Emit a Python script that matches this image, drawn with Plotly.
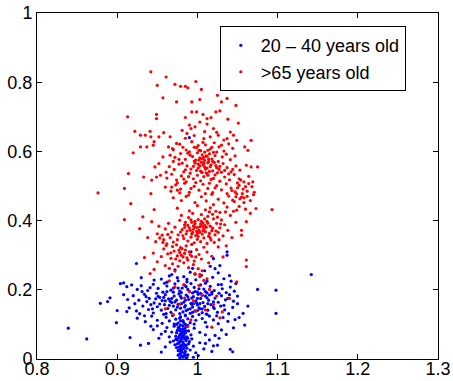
import plotly.graph_objects as go

# ---- data ----
young_points = [
    # outliers / sparse
    (0.839,0.089),(0.862,0.058),(0.879,0.161),(0.888,0.166),(0.891,0.177),(0.900,0.140),
    (0.899,0.105),(0.904,0.218),(0.908,0.220),(0.912,0.209),(0.924,0.276),(0.930,0.235),
    (0.912,0.137),(0.916,0.062),(0.929,0.040),(0.939,0.045),(1.142,0.244),(1.098,0.199),
    (1.098,0.132),(1.075,0.201),(1.063,0.153),(1.059,0.098),(1.041,0.028),(1.044,0.021),
    (1.037,0.300),(1.037,0.310),(1.050,0.182),(1.048,0.218),(1.057,0.132),(0.990,0.640),
    (0.992,0.310),(1.020,0.290),
    # 0.22 - 0.27
    (0.955,0.231),(0.968,0.244),(0.976,0.226),(0.983,0.238),(0.991,0.251),(0.998,0.229),
    (1.005,0.242),(1.012,0.225),(1.019,0.236),(1.026,0.249),(1.033,0.232),(0.962,0.222),
    (0.987,0.223),(1.009,0.255),(1.022,0.261),(0.946,0.228),(1.040,0.241),(0.972,0.258),
    (1.016,0.268),(1.028,0.270),(0.994,0.262),
    # 0.19 - 0.22
    (0.930,0.212),(0.938,0.198),(0.945,0.216),(0.951,0.204),(0.957,0.193),(0.962,0.211),
    (0.967,0.199),(0.972,0.217),(0.976,0.205),(0.980,0.192),(0.984,0.213),(0.988,0.201),
    (0.992,0.218),(0.996,0.207),(1.000,0.194),(1.004,0.214),(1.008,0.202),(1.012,0.191),
    (1.016,0.210),(1.021,0.198),(1.026,0.215),(1.031,0.203),(1.036,0.192),(1.041,0.208),
    (1.046,0.196),(0.959,0.219),(0.978,0.196),(0.994,0.191),(1.010,0.219),(0.941,0.206),
    (0.925,0.201),(0.918,0.214),(0.970,0.193),(0.986,0.209),(1.002,0.203),(1.018,0.193),
    # 0.16 - 0.19
    (0.920,0.183),(0.927,0.170),(0.934,0.187),(0.940,0.175),(0.946,0.162),(0.951,0.181),
    (0.956,0.169),(0.960,0.186),(0.964,0.174),(0.968,0.163),(0.971,0.182),(0.974,0.170),
    (0.977,0.188),(0.980,0.176),(0.983,0.164),(0.986,0.185),(0.989,0.172),(0.992,0.161),
    (0.995,0.180),(0.998,0.168),(1.001,0.187),(1.004,0.175),(1.007,0.163),(1.010,0.182),
    (1.014,0.170),(1.018,0.188),(1.022,0.176),(1.026,0.164),(1.030,0.183),(1.035,0.171),
    (1.040,0.186),(1.045,0.167),(0.958,0.178),(0.966,0.167),(0.979,0.181),(0.993,0.176),
    (1.006,0.184),(1.020,0.165),(0.948,0.174),(0.937,0.166),(0.913,0.172),(0.908,0.186),
    (0.985,0.170),(0.999,0.162),(1.012,0.177),
    # 0.13 - 0.16
    (0.915,0.148),(0.924,0.139),(0.932,0.153),(0.939,0.143),(0.945,0.133),(0.950,0.151),
    (0.955,0.141),(0.959,0.157),(0.963,0.146),(0.967,0.135),(0.970,0.153),(0.973,0.142),
    (0.976,0.158),(0.979,0.147),(0.982,0.136),(0.985,0.154),(0.988,0.143),(0.991,0.132),
    (0.994,0.150),(0.997,0.139),(1.000,0.156),(1.003,0.145),(1.006,0.134),(1.009,0.152),
    (1.013,0.141),(1.017,0.157),(1.021,0.146),(1.025,0.135),(1.029,0.153),(1.034,0.142),
    (1.039,0.131),(1.044,0.149),(0.961,0.131),(0.978,0.131),(0.993,0.158),(1.011,0.130),
    (0.953,0.159),(0.942,0.157),(0.928,0.131),(0.986,0.140),(1.002,0.148),
    # 0.10 - 0.13
    (0.925,0.118),(0.935,0.108),(0.943,0.124),(0.950,0.112),(0.956,0.103),(0.961,0.121),
    (0.965,0.110),(0.969,0.126),(0.973,0.115),(0.976,0.104),(0.979,0.122),(0.982,0.111),
    (0.985,0.127),(0.988,0.116),(0.991,0.105),(0.994,0.123),(0.998,0.112),(1.002,0.128),
    (1.006,0.117),(1.010,0.106),(1.015,0.124),(1.020,0.113),(1.026,0.102),(1.032,0.120),
    (1.038,0.109),(1.047,0.114),(0.958,0.129),(0.971,0.101),(0.996,0.101),(1.012,0.129),
    # 0.06 - 0.10
    (0.945,0.085),(0.955,0.072),(0.962,0.091),(0.968,0.078),(0.971,0.095),(0.973,0.066),
    (0.975,0.083),(0.977,0.092),(0.978,0.071),(0.979,0.086),(0.980,0.062),(0.981,0.079),
    (0.982,0.096),(0.983,0.068),(0.984,0.088),(0.985,0.075),(0.986,0.093),(0.987,0.064),
    (0.989,0.081),(0.992,0.070),(0.996,0.089),(1.003,0.077),(1.012,0.093),(1.022,0.068),
    (1.030,0.084),(1.036,0.071),(0.974,0.076),(0.976,0.060),(0.979,0.098),(0.981,0.069),
    (0.983,0.082),(0.985,0.061),(0.988,0.097),(0.965,0.064),(0.950,0.096),
    # 0.00 - 0.06
    (0.970,0.052),(0.972,0.041),(0.974,0.033),(0.975,0.055),(0.976,0.024),(0.977,0.046),
    (0.978,0.015),(0.979,0.038),(0.980,0.057),(0.981,0.028),(0.982,0.049),(0.983,0.009),
    (0.984,0.036),(0.985,0.022),(0.986,0.053),(0.987,0.031),(0.988,0.012),(0.989,0.044),
    (0.991,0.026),(0.993,0.058),(0.995,0.037),(0.998,0.018),(1.003,0.047),(1.008,0.029),
    (1.015,0.055),(1.018,0.022),(1.025,0.040),(0.978,0.003),(0.980,0.020),(0.982,0.005),
    (0.976,0.011),(0.984,0.017),(0.986,0.002),(0.979,0.027),(0.977,0.034),(0.983,0.043),
    (0.960,0.035),(0.966,0.049),(0.955,0.020),(0.995,0.005),(1.001,0.010),(1.010,0.045),
    (1.020,0.038),
    # extra column points
    (0.977,0.065),(0.979,0.052),(0.981,0.041),(0.983,0.030),(0.980,0.075),(0.982,0.087),
    (0.978,0.082),(0.984,0.058),(0.975,0.044),(0.986,0.040),(0.976,0.090),(0.985,0.100),
    (0.980,0.010),(0.982,0.064),(0.978,0.050),(0.984,0.075),(0.986,0.081),(0.974,0.100),
    (0.979,0.110),(0.983,0.105),(0.981,0.020),(0.977,0.025),(0.988,0.060),(0.973,0.057),
    (0.985,0.012),(0.990,0.050),(0.987,0.005),(0.980,0.035),
    # extra core points
    (0.980,0.160),(0.984,0.150),(0.988,0.180),(0.991,0.145),(0.995,0.160),(0.972,0.165),
    (0.975,0.150),(0.968,0.175),(0.990,0.195),(1.000,0.175),(1.003,0.160),(1.006,0.145),
    (0.965,0.155),(0.962,0.195),(0.970,0.205),(0.981,0.205),(0.997,0.195),(1.010,0.195),
    (1.015,0.185),(1.013,0.160),(1.020,0.150),(0.985,0.125),(0.978,0.118),(0.960,0.168),
    (0.953,0.178),(0.949,0.190),(0.944,0.145),(0.936,0.180),(0.931,0.195),(0.922,0.160),
    (0.934,0.125),(1.024,0.125),(1.027,0.190),(1.033,0.155),(1.038,0.175),(0.994,0.135),
    (1.000,0.140),(1.004,0.190),(0.987,0.230),(0.997,0.245),(0.975,0.235),(0.965,0.240),
    (1.030,0.215),(1.042,0.225),(1.050,0.160),(1.052,0.120),(0.942,0.095),(0.952,0.060),
    (0.960,0.080),(1.010,0.070),(1.027,0.060),(1.045,0.090),
]

old_points = [
    # sparse top
    (0.942,0.830),(0.961,0.815),(0.972,0.794),(0.979,0.788),(0.985,0.788),(0.998,0.802),
    (0.988,0.784),(0.950,0.791),(0.957,0.755),(0.974,0.743),(0.993,0.743),(1.005,0.779),
    (1.003,0.750),(1.025,0.762),(1.037,0.753),(1.030,0.743),(1.048,0.733),(0.993,0.714),
    (0.999,0.714),(1.007,0.707),(0.913,0.700),(0.949,0.707),(0.949,0.695),(0.985,0.698),
    (1.012,0.695),(1.023,0.714),(1.028,0.717),(1.038,0.693),(1.051,0.682),(1.017,0.698),
    # sparse sides
    (0.922,0.658),(0.929,0.647),(0.935,0.647),(0.941,0.658),(0.942,0.642),(0.946,0.628),
    (0.945,0.618),(0.937,0.613),(0.929,0.613),(0.920,0.596),(0.914,0.536),(0.933,0.526),
    (0.943,0.517),(0.949,0.526),(0.954,0.531),(0.947,0.555),(0.952,0.565),(0.957,0.584),
    (0.958,0.654),(0.966,0.642),(0.952,0.642),(0.964,0.613),(0.970,0.605),(0.974,0.623),
    (0.981,0.661),(0.987,0.652),(0.990,0.676),(0.992,0.666),(0.997,0.671),(1.003,0.685),
    (1.012,0.679),(1.020,0.666),(1.009,0.657),(1.016,0.642),(1.026,0.647),(1.037,0.637),
    (1.045,0.647),(1.049,0.632),(1.059,0.613),(1.067,0.632),(1.063,0.603),(1.061,0.560),
    (1.075,0.555),(1.067,0.555),(1.069,0.512),(1.073,0.435),(1.061,0.397),(1.055,0.372),
    (1.055,0.358),(1.061,0.286),(1.061,0.267),(1.049,0.223),(1.048,0.395),(1.093,0.432),
    (1.049,0.430),(0.932,0.411),(0.946,0.432),(0.943,0.397),(0.928,0.377),(0.938,0.351),
    (0.909,0.403),(0.909,0.493),(0.917,0.449),(0.942,0.478),(0.876,0.480),(0.934,0.293),
    (0.941,0.247),(0.946,0.259),(1.003,0.238),(1.026,0.324),(1.032,0.295),
    # upper dense cluster
    (0.978,0.621),(0.986,0.604),(0.993,0.628),(0.999,0.611),(1.004,0.602),(1.010,0.619),
    (1.016,0.607),(1.021,0.625),(1.027,0.613),(1.033,0.601),(1.039,0.622),(1.044,0.609),
    (0.982,0.612),(1.007,0.626),(1.013,0.603),(1.030,0.618),(0.990,0.599),(1.001,0.617),
    (1.024,0.598),(0.969,0.608),
    (0.972,0.583),(0.979,0.594),(0.985,0.577),(0.991,0.589),(0.996,0.572),(1.000,0.596),
    (1.003,0.581),(1.006,0.590),(1.009,0.574),(1.012,0.586),(1.015,0.593),(1.018,0.578),
    (1.022,0.588),(1.026,0.571),(1.031,0.584),(1.036,0.592),(1.041,0.576),(0.988,0.595),
    (1.008,0.583),(1.014,0.571),(1.002,0.575),(0.994,0.585),(1.020,0.597),(1.047,0.587),
    (0.965,0.556),(0.971,0.548),(0.977,0.563),(0.983,0.541),(0.987,0.558),(0.992,0.549),
    (0.997,0.566),(1.001,0.552),(1.004,0.543),(1.007,0.561),(1.010,0.549),(1.013,0.567),
    (1.016,0.556),(1.019,0.544),(1.023,0.559),(1.027,0.548),(1.032,0.565),(1.037,0.553),
    (1.042,0.541),(1.048,0.558),(1.053,0.546),(1.005,0.569),(1.011,0.538),(0.999,0.545),
    (1.021,0.568),(0.981,0.566),(1.009,0.555),(1.015,0.542),(1.030,0.540),
    (0.962,0.523),(0.968,0.534),(0.974,0.517),(0.980,0.529),(0.986,0.512),(0.991,0.537),
    (0.995,0.521),(1.000,0.531),(1.004,0.515),(1.008,0.527),(1.012,0.536),(1.017,0.519),
    (1.022,0.532),(1.028,0.514),(1.034,0.526),(1.040,0.518),(1.046,0.533),(1.052,0.521),
    (1.058,0.512),(1.064,0.528),(1.006,0.539),(0.983,0.520),(1.025,0.538),
    (0.960,0.497),(0.967,0.485),(0.973,0.503),(0.979,0.491),(0.984,0.508),(0.990,0.482),
    (0.996,0.499),(1.002,0.488),(1.007,0.505),(1.013,0.493),(1.019,0.481),(1.024,0.501),
    (1.030,0.489),(1.036,0.506),(1.042,0.494),(1.047,0.483),(1.052,0.502),(1.057,0.491),
    (1.062,0.485),(1.068,0.498),(1.071,0.482),(0.975,0.488),(1.050,0.509),
    (0.970,0.466),(0.980,0.458),(0.989,0.474),(0.997,0.452),(1.005,0.469),(1.011,0.457),
    (1.018,0.476),(1.026,0.462),(1.033,0.451),(1.039,0.471),(1.044,0.459),(1.049,0.477),
    (1.053,0.463),(1.058,0.452),(1.062,0.470),(1.066,0.458),(1.070,0.475),(1.055,0.468),
    (1.046,0.455),
    (0.975,0.436),(0.990,0.428),(1.000,0.443),(1.010,0.431),(1.020,0.446),(1.028,0.424),
    (1.037,0.439),(1.045,0.427),(1.052,0.441),(1.060,0.433),(1.066,0.421),(1.015,0.425),
    # extra upper core
    (1.003,0.558),(1.008,0.566),(1.012,0.552),(1.017,0.561),(0.998,0.575),(1.006,0.579),
    (1.011,0.587),(1.019,0.571),(1.024,0.553),(0.995,0.557),(1.001,0.563),(1.014,0.578),
    (1.009,0.598),(1.002,0.603),(0.996,0.612),(1.018,0.612),(1.005,0.541),(1.013,0.531),
    (0.989,0.527),(0.985,0.547),(1.020,0.522),(1.028,0.557),(1.034,0.545),(1.039,0.535),
    (1.044,0.548),(1.050,0.495),(1.056,0.478),(1.060,0.498),(1.064,0.507),(1.054,0.517),
    (1.048,0.469),(1.043,0.487),(1.037,0.478),(1.058,0.466),(0.977,0.577),(0.970,0.571),
    (0.966,0.589),(0.961,0.540),(0.975,0.509),(0.968,0.497),(0.992,0.493),(0.998,0.510),
    (1.015,0.508),(1.022,0.495),(1.010,0.478),(0.986,0.470),(0.978,0.480),(1.033,0.633),
    (1.008,0.637),(0.985,0.638),(1.041,0.656),(0.996,0.646),(1.024,0.655),
    # middle cluster
    (0.978,0.401),(0.984,0.388),(0.989,0.409),(0.993,0.395),(0.997,0.381),(1.001,0.403),
    (1.004,0.390),(1.008,0.377),(1.012,0.398),(1.016,0.384),(1.020,0.405),(1.024,0.392),
    (1.028,0.379),(0.981,0.374),(0.986,0.362),(0.990,0.379),(0.994,0.366),(0.998,0.357),
    (1.002,0.372),(1.006,0.361),(1.010,0.368),(1.014,0.355),(1.018,0.371),(1.022,0.359),
    (1.026,0.366),(0.976,0.359),(0.983,0.348),(0.988,0.341),(0.992,0.352),(0.996,0.336),
    (1.000,0.346),(1.004,0.339),(1.008,0.350),(1.012,0.334),(1.017,0.344),(1.021,0.337),
    (0.995,0.385),(0.999,0.369),(1.003,0.382),(1.007,0.393),(0.991,0.372),(1.000,0.363),
    (1.009,0.386),(0.985,0.395),(0.997,0.398),(1.013,0.412),(1.019,0.418),(1.030,0.402),
    (1.034,0.388),(1.038,0.372),(1.032,0.356),(1.027,0.345),(0.972,0.381),(0.968,0.367),
    (0.964,0.392),(0.960,0.376),(0.956,0.358),(0.952,0.384),(0.958,0.345),(0.962,0.333),
    (0.950,0.362),(0.966,0.351),(0.970,0.338),(1.041,0.415),(1.043,0.351),(1.036,0.327),
    (0.980,0.415),(0.994,0.421),(1.005,0.417),(1.023,0.427),
    # extra middle / lower core
    (0.995,0.375),(1.000,0.380),(1.003,0.366),(1.007,0.371),(0.993,0.361),(0.988,0.386),
    (1.011,0.381),(1.015,0.363),(0.997,0.391),(1.005,0.398),(1.001,0.354),(0.987,0.370),
    (1.013,0.392),(1.019,0.378),(0.984,0.380),(1.006,0.384),(0.992,0.402),(1.023,0.370),
    (0.979,0.367),(1.009,0.405),(0.982,0.356),(1.016,0.350),(0.975,0.345),(0.969,0.325),
    (0.985,0.315),(0.991,0.302),(0.980,0.300),(0.973,0.289),(0.988,0.286),(0.977,0.315),
    (0.998,0.295),(0.967,0.307),(0.953,0.350),(0.957,0.337),(0.948,0.339),(0.963,0.360),
    (1.029,0.390),(1.025,0.410),(1.035,0.425),(1.016,0.437),
    # lower cluster
    (0.958,0.318),(0.963,0.304),(0.967,0.291),(0.971,0.312),(0.975,0.298),(0.978,0.284),
    (0.981,0.319),(0.984,0.305),(0.987,0.292),(0.990,0.310),(0.993,0.297),(0.996,0.283),
    (0.999,0.316),(1.002,0.302),(1.005,0.289),(0.969,0.275),(0.976,0.268),(0.983,0.278),
    (0.989,0.264),(0.995,0.273),(1.001,0.261),(0.965,0.262),(0.972,0.254),(0.979,0.322),
    (0.986,0.327),(0.993,0.331),(1.008,0.323),(1.012,0.309),(0.955,0.296),(0.950,0.281),
    (0.960,0.270),(0.945,0.306),(0.974,0.330),(0.961,0.328),(0.997,0.247),(1.006,0.255),
    (1.014,0.278),(1.018,0.297),(0.982,0.295),(0.978,0.308),
    # among the young
    (0.965,0.226),(0.972,0.208),(0.984,0.176),(0.990,0.195),(0.995,0.168),(1.002,0.213),
    (1.006,0.186),(1.010,0.142),(1.015,0.201),(1.020,0.158),(1.024,0.182),(1.028,0.119),
    (1.031,0.136),(1.018,0.092),(0.992,0.113),(0.970,0.128),(0.978,0.159),(1.003,0.245),
    (1.012,0.232),(0.960,0.145),(0.988,0.094),(1.040,0.175),(1.008,0.227),(0.998,0.138),
    (0.983,0.215),
]

series_names = ["20 \u2013 40 years old", ">65 years old"]
series_colors = ["#0000ff", "#ff0000"]
x_ticks = [0.8, 0.9, 1.0, 1.1, 1.2, 1.3]
x_tick_text = ["0.8", "0.9", "1", "1.1", "1.2", "1.3"]
y_ticks = [0, 0.2, 0.4, 0.6, 0.8, 1.0]
y_tick_text = ["0", "0.2", "0.4", "0.6", "0.8", "1"]

fig = go.Figure()
for pts, name, col in zip([young_points, old_points], series_names, series_colors):
    fig.add_trace(go.Scatter(
        x=[p[0] for p in pts], y=[p[1] for p in pts],
        mode="markers", name=name,
        marker=dict(color=col, size=3.2, line=dict(width=0)),
    ))

axis_common = dict(
    showline=True, linecolor="black", linewidth=1, mirror="ticks",
    ticks="inside", ticklen=5, tickcolor="black", showgrid=False, zeroline=False,
    automargin=False,
    tickfont=dict(family="Liberation Sans, Arial, sans-serif", size=18, color="black"),
)
fig.update_xaxes(range=[0.8, 1.3], tickvals=x_ticks, ticktext=x_tick_text,
                 ticklabelstandoff=-7, **axis_common)
fig.update_yaxes(range=[0, 1], tickvals=y_ticks, ticktext=y_tick_text, **axis_common)

fig.update_layout(
    width=453, height=381,
    margin=dict(l=37, r=15, t=13, b=22),
    paper_bgcolor="white", plot_bgcolor="white",
    font=dict(family="Liberation Sans, Arial, sans-serif", size=18, color="black"),
    legend=dict(
        x=0.456, y=0.962, xanchor="left", yanchor="top",
        bordercolor="black", borderwidth=1, bgcolor="white",
        font=dict(size=18), itemsizing="trace", tracegroupgap=0,
    ),
    showlegend=True,
)

fig.write_html("out.html", config={"displayModeBar": False},
               post_script="document.body.style.margin='0';")
